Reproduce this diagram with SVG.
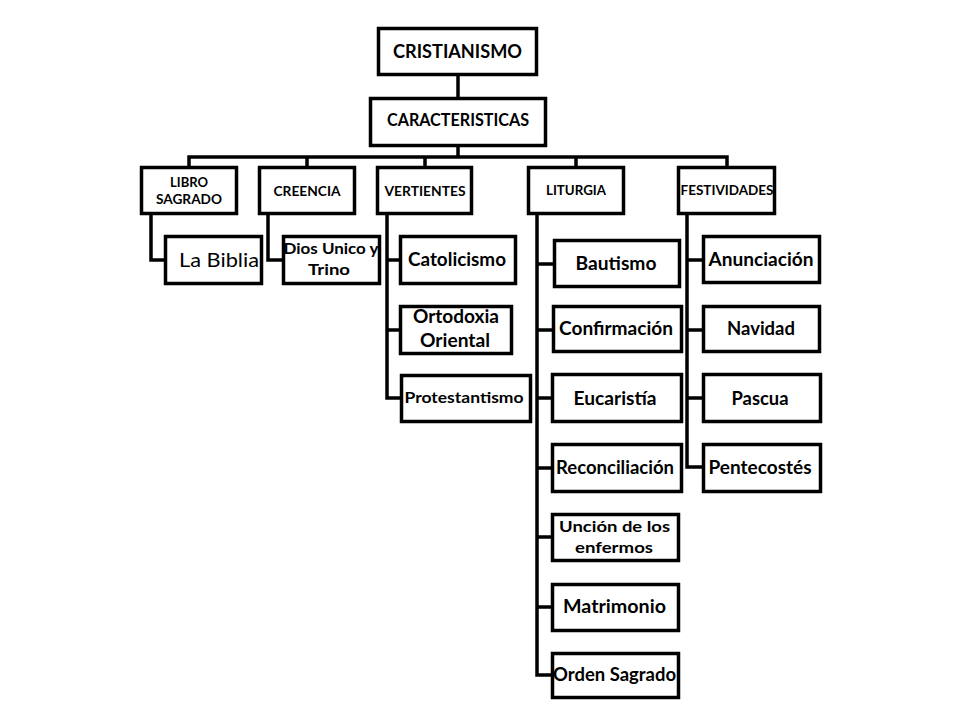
<svg xmlns="http://www.w3.org/2000/svg" width="960" height="720" viewBox="0 0 960 720">
<style>
rect{fill:#fff;stroke:#000;stroke-width:3.5}
.c{fill:none;stroke:#000;stroke-width:3.5;stroke-linejoin:miter;stroke-linecap:square}
text{font-family:Lato,"Open Sans","Liberation Sans",sans-serif;font-weight:bold;fill:#000;text-anchor:middle}
.t1{font-size:19.5px}
.t2{font-size:16.5px}
.s{font-size:12.5px}
.m{font-size:18px}
.n{font-size:15px}
.r{font-weight:normal;font-size:20px}
</style>
<rect x="0" y="0" width="960" height="720" style="fill:#fff;stroke:none"/>
<g id="connectors">
<path class="c" d="M458 76V97M458 147V157M189 157H727M189 157V166M307 157V166M425 157V166M576 157V166M727 157V166"/>
<path class="c" d="M151 215V260H164"/>
<path class="c" d="M268 215V260H282"/>
<path class="c" d="M387 215V398H400M387 260H399M387 330H399"/>
<path class="c" d="M537 215V675H551M537 264H553M537 330H552M537 398H551M537 468H551M537 537H551M537 607H551"/>
<path class="c" d="M687 215V467H702M687 260H702M687 330H702M687 398H702"/>
</g>
<g id="cristianismo"><rect x="378.5" y="28.5" width="158" height="46"/><text class="t1" x="457.5" y="58" textLength="129" lengthAdjust="spacingAndGlyphs">CRISTIANISMO</text></g>
<g id="caracteristicas"><rect x="370.5" y="98.5" width="175" height="47"/><text class="t2" x="458" y="126" textLength="142" lengthAdjust="spacingAndGlyphs">CARACTERISTICAS</text></g>
<g id="libro"><rect x="141.5" y="167.5" width="95" height="46"/><text class="s" x="189" y="187" textLength="38" lengthAdjust="spacingAndGlyphs">LIBRO</text><text class="s" x="189" y="204" textLength="66" lengthAdjust="spacingAndGlyphs">SAGRADO</text></g>
<g id="creencia"><rect x="259.5" y="167.5" width="95" height="46"/><text class="s" x="307" y="196" textLength="67" lengthAdjust="spacingAndGlyphs">CREENCIA</text></g>
<g id="vertientes"><rect x="377.5" y="167.5" width="94" height="46"/><text class="s" x="425" y="196" textLength="81" lengthAdjust="spacingAndGlyphs">VERTIENTES</text></g>
<g id="liturgia"><rect x="528.5" y="167.5" width="95" height="46"/><text class="s" x="576" y="195" textLength="60" lengthAdjust="spacingAndGlyphs">LITURGIA</text></g>
<g id="festividades"><rect x="678.5" y="167.5" width="96" height="46"/><text class="s" x="727" y="195" textLength="93" lengthAdjust="spacingAndGlyphs">FESTIVIDADES</text></g>
<g id="biblia"><rect x="165.5" y="236.5" width="96" height="47"/><text class="r" x="219" y="267" textLength="80" lengthAdjust="spacingAndGlyphs">La Biblia</text></g>
<g id="dios"><rect x="283.5" y="236.5" width="96" height="47"/><text class="n" x="331" y="254" textLength="95" lengthAdjust="spacingAndGlyphs">Dios Unico y</text><text class="n" x="329" y="275" textLength="42" lengthAdjust="spacingAndGlyphs">Trino</text></g>
<g id="catolicismo"><rect x="400.5" y="236.5" width="115" height="47"/><text class="m" x="457" y="266" textLength="98" lengthAdjust="spacingAndGlyphs">Catolicismo</text></g>
<g id="ortodoxia"><rect x="400.5" y="306.5" width="111" height="47"/><text class="m" x="456" y="323" textLength="86" lengthAdjust="spacingAndGlyphs">Ortodoxia</text><text class="m" x="455" y="347" textLength="70" lengthAdjust="spacingAndGlyphs">Oriental</text></g>
<g id="protestantismo"><rect x="401.5" y="375.5" width="129" height="46"/><text class="n" x="464" y="403" textLength="119" lengthAdjust="spacingAndGlyphs">Protestantismo</text></g>
<g id="bautismo"><rect x="554.5" y="240.5" width="125" height="46"/><text class="m" x="616" y="270" textLength="81" lengthAdjust="spacingAndGlyphs">Bautismo</text></g>
<g id="confirmacion"><rect x="553.5" y="306.5" width="128" height="45"/><text class="m" x="616" y="335" textLength="114" lengthAdjust="spacingAndGlyphs">Confirmación</text></g>
<g id="eucaristia"><rect x="552.5" y="374.5" width="129" height="47"/><text class="m" x="615" y="405" textLength="83" lengthAdjust="spacingAndGlyphs">Eucaristía</text></g>
<g id="reconciliacion"><rect x="552.5" y="444.5" width="129" height="47"/><text class="m" x="615" y="474" textLength="118" lengthAdjust="spacingAndGlyphs">Reconciliación</text></g>
<g id="uncion"><rect x="552.5" y="514.5" width="126" height="46"/><text class="n" x="614.5" y="532" textLength="111" lengthAdjust="spacingAndGlyphs">Unción de los</text><text class="n" x="614" y="553" textLength="78" lengthAdjust="spacingAndGlyphs">enfermos</text></g>
<g id="matrimonio"><rect x="552.5" y="584.5" width="126" height="46"/><text class="m" x="614.5" y="613" textLength="103" lengthAdjust="spacingAndGlyphs">Matrimonio</text></g>
<g id="orden"><rect x="552.5" y="653.5" width="126" height="44"/><text class="m" x="614.5" y="681" textLength="123" lengthAdjust="spacingAndGlyphs">Orden Sagrado</text></g>
<g id="anunciacion"><rect x="703.5" y="236.5" width="116" height="46"/><text class="m" x="761" y="266" textLength="105" lengthAdjust="spacingAndGlyphs">Anunciación</text></g>
<g id="navidad"><rect x="703.5" y="306.5" width="116" height="45"/><text class="m" x="761" y="335" textLength="68" lengthAdjust="spacingAndGlyphs">Navidad</text></g>
<g id="pascua"><rect x="703.5" y="374.5" width="117" height="47"/><text class="m" x="760" y="405" textLength="57" lengthAdjust="spacingAndGlyphs">Pascua</text></g>
<g id="pentecostes"><rect x="703.5" y="444.5" width="117" height="47"/><text class="m" x="760" y="474" textLength="103" lengthAdjust="spacingAndGlyphs">Pentecostés</text></g>
</svg>
